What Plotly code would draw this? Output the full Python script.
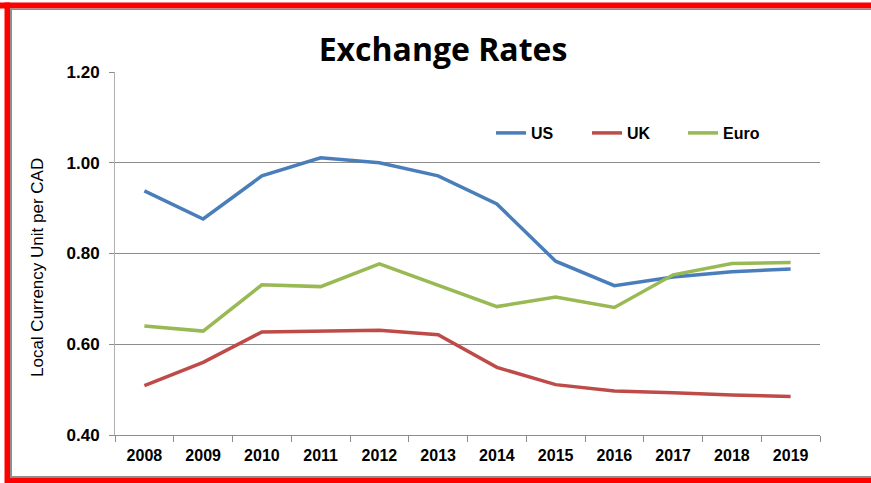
import plotly.graph_objects as go

years = ["2008", "2009", "2010", "2011", "2012", "2013", "2014", "2015", "2016", "2017", "2018", "2019"]
us = [0.938, 0.876, 0.971, 1.011, 1.000, 0.971, 0.909, 0.783, 0.729, 0.748, 0.760, 0.766]
uk = [0.509, 0.560, 0.627, 0.629, 0.631, 0.621, 0.549, 0.511, 0.497, 0.493, 0.488, 0.485]
euro = [0.640, 0.629, 0.731, 0.727, 0.777, 0.731, 0.683, 0.704, 0.681, 0.753, 0.778, 0.780]
y_ticks = [0.40, 0.60, 0.80, 1.00, 1.20]

W, H = 871, 483
L, R, T, B = 115, 51, 72, 48
PW, PH = W - L - R, H - T - B


def px(x):
    return (x - L) / PW


def py(y):
    return 1 - (y - T) / PH


fig = go.Figure()
for name, vals, col in [("US", us, "#4A7EBB"), ("UK", uk, "#BE4B48"), ("Euro", euro, "#98B954")]:
    fig.add_trace(go.Scatter(x=years, y=vals, name=name, mode="lines",
                             line=dict(color=col, width=3.5)))

grid = "#8C8C8C"
fig.update_layout(
    width=W, height=H,
    margin=dict(l=L, r=R, t=T, b=B),
    paper_bgcolor="white", plot_bgcolor="white",
    title=dict(text="<b>Exchange Rates</b>", xref="container", yref="container",
               x=443 / W, xanchor="center", y=1 - 50 / H, yanchor="middle",
               font=dict(family="Open Sans", size=32, color="black")),
    showlegend=True,
    legend=dict(orientation="h", x=px(491), xanchor="left", y=py(133), yanchor="middle",
                font=dict(family="Liberation Sans", size=16, color="black", weight="bold"),
                bgcolor="rgba(0,0,0,0)", entrywidth=51, itemwidth=30),
    xaxis=dict(type="category", range=[-0.5, 11.5], showgrid=False,
               showline=True, linecolor=grid, linewidth=1,
               ticks="outside", tickson="boundaries", ticklen=6, tickcolor=grid,
               ticklabelstandoff=6,
               tickfont=dict(family="Liberation Sans", size=16, color="black", weight="bold")),
    yaxis=dict(range=[0.4, 1.2], tickvals=y_ticks, tickformat=".2f",
               showgrid=True, gridcolor=grid, gridwidth=1, zeroline=False,
               showline=True, linecolor="#B0B0B0", linewidth=1,
               ticks="outside", ticklen=5, tickcolor=grid, ticklabelstandoff=6,
               tickfont=dict(family="Liberation Sans", size=17, color="black", weight="bold")),
)

fig.add_annotation(text="Local Currency Unit per CAD", xref="paper", yref="paper",
                   x=px(37), y=py(268), textangle=-90, showarrow=False,
                   xanchor="center", yanchor="middle",
                   font=dict(family="Liberation Sans", size=17, color="black"))

# frame: red border with gray inner shadow
shapes = [
    dict(x0=px(0), x1=px(W), y0=py(2.5), y1=py(8.5), color="#FF0000"),
    dict(x0=px(10), x1=px(W), y0=py(8.5), y1=py(10), color="#8E8E8E"),
    dict(x0=px(4.5), x1=px(10), y0=py(2.5), y1=py(H), color="#FF0000"),
    dict(x0=px(10), x1=px(12), y0=py(8.5), y1=py(477), color="#8E8E8E"),
    dict(x0=px(10), x1=px(W), y0=py(476), y1=py(478), color="#8E8E8E"),
    dict(x0=px(10), x1=px(W), y0=py(478), y1=py(H), color="#FF0000"),
]
for s in shapes:
    fig.add_shape(type="rect", xref="paper", yref="paper", x0=s["x0"], x1=s["x1"],
                  y0=s["y0"], y1=s["y1"], fillcolor=s["color"], line=dict(width=0),
                  layer="above")

fig.write_html("out.html", config={"displayModeBar": False},
               post_script="document.body.style.margin='0';document.body.style.overflow='hidden';")
